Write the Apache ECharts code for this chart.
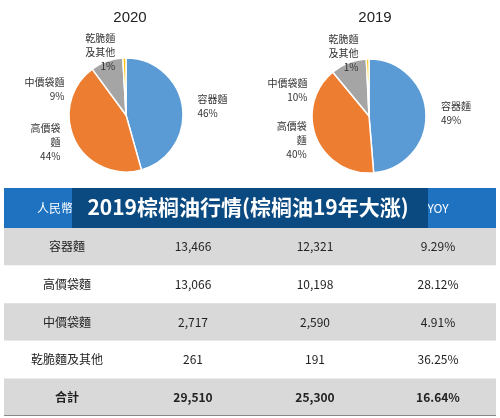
<!DOCTYPE html>
<html>
<head>
<meta charset="utf-8">
<script src="https://cdn.jsdelivr.net/npm/echarts@6/dist/echarts.min.js"></script>
<style>html,body{margin:0;padding:0;background:#fff}#main{width:500px;height:418px}</style>
</head>
<body>
<div id="main"></div>
<script>
// 速食麵營收 (人民幣百萬)
var categories = ['容器麵', '高價袋麵', '中價袋麵', '乾脆麵及其他'];
var pieNames = ['容器麵', '高價袋\n麵', '中價袋麵', '乾脆麵\n及其他'];
var values2020 = [13466, 13066, 2717, 261];
var values2019 = [12321, 10198, 2590, 191];
var yoy = ['9.29%', '28.12%', '4.91%', '36.25%'];
var totals = ['29,510', '25,300', '16.64%'];
var colors = ['#5b9bd5', '#ed7d31', '#a5a5a5', '#ffc000'];

var chart = echarts.init(document.getElementById('main'));
var font = '"Noto Sans CJK TC", "Noto Sans", sans-serif';

function pieData(vals) {
    return vals.map(function (v, i) { return { name: pieNames[i], value: v }; });
}
function fmt(n) { return n.toLocaleString('en-US'); }

var colX = [67, 193, 315, 438];
var rowTop = 228, rowH = 37.6;
var g = [];
// header band
g.push({ type: 'rect', shape: { x: 4, y: 188, width: 492, height: 40 }, style: { fill: '#1f72c0' } });
g.push({ type: 'text', style: { text: '人民幣百萬', x: colX[0], y: 208, align: 'center', verticalAlign: 'middle', fill: '#fff', font: '12px ' + font } });
g.push({ type: 'text', style: { text: 'YOY', x: colX[3], y: 208, align: 'center', verticalAlign: 'middle', fill: '#fff', font: '12px ' + font } });
g.push({ type: 'rect', shape: { x: 72, y: 188, width: 356, height: 40 }, style: { fill: '#0b4a80' } });
g.push({ type: 'text', style: { text: '2019棕榈油行情(棕榈油19年大涨)', x: 248, y: 207, align: 'center', verticalAlign: 'middle', fill: '#fff', font: 'bold 21px ' + font } });
for (var i = 0; i < 5; i++) {
    var y = rowTop + i * rowH;
    g.push({ type: 'rect', shape: { x: 4, y: y, width: 492, height: rowH }, style: { fill: i % 2 === 0 ? '#d9d9d9' : '#ffffff' } });
    var cells = i < 4
        ? [categories[i], fmt(values2020[i]), fmt(values2019[i]), yoy[i]]
        : ['合計', totals[0], totals[1], totals[2]];
    cells.forEach(function (t, c) {
        g.push({ type: 'text', style: { text: t, x: colX[c], y: y + rowH / 2, align: 'center', verticalAlign: 'middle', fill: '#222', font: (i === 4 ? 'bold ' : '') + '12px ' + font } });
    });
}
g.push({ type: 'rect', shape: { x: 4, y: rowTop + 5 * rowH - 1, width: 492, height: 1 }, style: { fill: '#888' } });

function pieSeries(vals, cx, cy) {
    return {
        type: 'pie',
        center: [cx, cy],
        radius: 57,
        startAngle: 90,
        data: pieData(vals),
        itemStyle: { borderColor: '#fff', borderWidth: 1.5 },
        label: {
            position: 'outside',
            formatter: function (p) { return p.name + '\n' + Math.round(p.percent) + '%'; },
            color: '#333', fontSize: 10, lineHeight: 14, fontFamily: font, align: 'center'
        },
        labelLine: { show: false, length: 6, length2: 4 },
        silent: true
    };
}

chart.setOption({
    animation: false,
    color: colors,
    title: [
        { text: '2020', left: 125, top: 5, textAlign: 'center', textStyle: { fontSize: 15, fontWeight: 'normal', color: '#222' } },
        { text: '2019', left: 370, top: 5, textAlign: 'center', textStyle: { fontSize: 15, fontWeight: 'normal', color: '#222' } }
    ],
    series: [pieSeries(values2020, 126, 115), pieSeries(values2019, 369, 116)],
    graphic: g
});
</script>
</body>
</html>
